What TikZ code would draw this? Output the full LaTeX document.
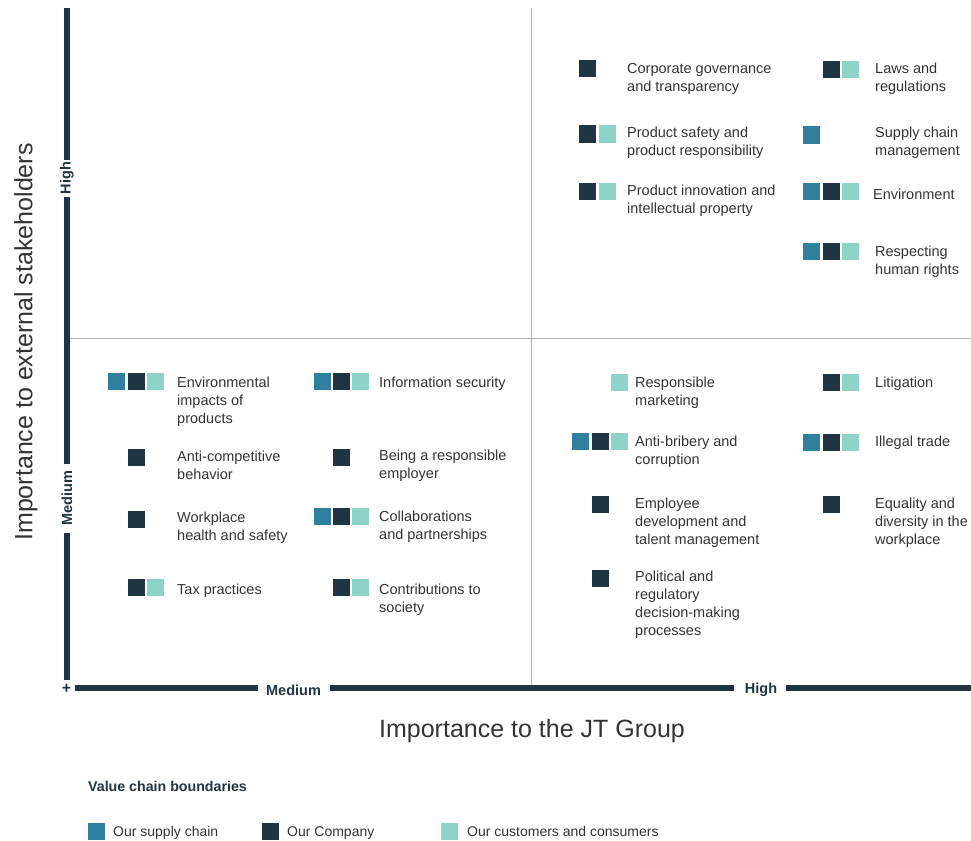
\documentclass[tikz,border=0pt]{standalone}
\usepackage{fontspec}
\setmainfont{Liberation Sans}
\definecolor{sup}{HTML}{2F7F9E}
\definecolor{com}{HTML}{1F3543}
\definecolor{cus}{HTML}{8DD3C8}
\definecolor{txt}{HTML}{333333}
\newcommand{\ml}[1]{\begin{tabular}[t]{@{}l@{}}#1\end{tabular}}
\begin{document}
\begin{tikzpicture}[x=1pt,y=-1pt,
 sq/.style={minimum size=17pt, inner sep=0, outer sep=0, anchor=center},
 sqS/.style={sq, fill=sup}, sqC/.style={sq, fill=com}, sqK/.style={sq, fill=cus},
 lab/.style={anchor=base west, inner sep=0, font=\fontsize{14.5}{18}\selectfont, text=txt},
 leglab/.style={anchor=base west, inner sep=0, font=\fontsize{14}{16}\selectfont, text=txt},
 bar/.style={line width=6.5pt, draw=com},
 axlab/.style={font=\bfseries\fontsize{14.5}{16}\selectfont, text=com, inner sep=0},
 gridline/.style={draw=gray!60, line width=0.6pt},
 title/.style={font=\fontsize{25}{28}\selectfont, text=txt, inner sep=0}]
\useasboundingbox (0,0) rectangle (971,840);
% grid
\coordinate (vt) at (531,8); \coordinate (vb) at (531,688);
\coordinate (hl) at (67,338); \coordinate (hr) at (971,338);
\draw[gridline] (vt) -- (vb);
\draw[gridline] (hl) -- (hr);
% vertical axis
\node[axlab, rotate=90] (yhigh) at (67,178) {High};
\node[axlab, rotate=90] (ymed) at (67,498) {Medium};
\node[axlab, font=\bfseries\fontsize{16}{16}\selectfont] (plus) at (66.5,689) {+};
\coordinate (y1) at (67,8); \coordinate (y2) at (67,160);
\coordinate (y3) at (67,197); \coordinate (y4) at (67,464);
\coordinate (y5) at (67,533); \coordinate (y6) at (67,680);
\draw[bar] (y1) -- (y2);
\draw[bar] (y3) -- (y4);
\draw[bar] (y5) -- (y6);
% horizontal axis
\node[axlab] (xmed) at (293.5,690) {Medium};
\node[axlab] (xhigh) at (761,690) {High};
\coordinate (xl) at (75,688); \coordinate (xr) at (971,688);
\draw[bar] (xl) -- ([xshift=-8pt]xmed.west |- xl);
\draw[bar] ([xshift=9pt]xmed.east |- xl) -- ([xshift=-11pt]xhigh.west |- xl);
\draw[bar] ([xshift=9pt]xhigh.east |- xl) -- (xr);
% titles
\node[title, rotate=90] (ytitle) at (26,342) {Importance to external stakeholders};
\node[title] (xtitle) at (532,731) {Importance to the JT Group};
% ---- top right quadrant
\node[sqC] (a1c) at (587.5,69) {};
\node[lab] (a1) at (627,74) {\ml{Corporate governance\\and transparency}};
\node[sqC] (a2c) at (587.5,134) {}; \node[sqK] (a2k) at (607.5,134) {};
\node[lab] (a2) at (627,137) {\ml{Product safety and\\product responsibility}};
\node[sqC] (a3c) at (587.5,191) {}; \node[sqK] (a3k) at (607.5,191) {};
\node[lab] (a3) at (627,195) {\ml{Product innovation and\\intellectual property}};
\node[sqC] (b1c) at (831.5,70) {}; \node[sqK] (b1k) at (850.5,70) {};
\node[lab] (b1) at (875,74) {\ml{Laws and\\regulations}};
\node[sqS] (b2s) at (811.5,135) {};
\node[lab] (b2) at (875,137) {\ml{Supply chain\\management}};
\node[sqS] (b3s) at (811.5,191) {}; \node[sqC] (b3c) at (831.5,191) {}; \node[sqK] (b3k) at (850.5,191) {};
\node[lab] (b3) at (873,199) {Environment};
\node[sqS] (b4s) at (811.5,251) {}; \node[sqC] (b4c) at (831.5,251) {}; \node[sqK] (b4k) at (850.5,251) {};
\node[lab] (b4) at (875,256) {\ml{Respecting\\human rights}};
% ---- bottom left quadrant
\node[sqS] (c1s) at (116.5,381) {}; \node[sqC] (c1c) at (136.5,381) {}; \node[sqK] (c1k) at (155.5,381) {};
\node[lab] (c1) at (177,387) {\ml{Environmental\\impacts of\\products}};
\node[sqC] (c2c) at (136.5,457) {};
\node[lab] (c2) at (177,461) {\ml{Anti-competitive\\behavior}};
\node[sqC] (c3c) at (136.5,519) {};
\node[lab] (c3) at (177,522) {\ml{Workplace\\health and safety}};
\node[sqC] (c4c) at (136.5,587) {}; \node[sqK] (c4k) at (155.5,587) {};
\node[lab] (c4) at (177,594) {Tax practices};
\node[sqS] (d1s) at (322.5,381) {}; \node[sqC] (d1c) at (341.5,381) {}; \node[sqK] (d1k) at (360.5,381) {};
\node[lab] (d1) at (379,387) {Information security};
\node[sqC] (d2c) at (341.5,457) {};
\node[lab] (d2) at (379,460) {\ml{Being a responsible\\employer}};
\node[sqS] (d3s) at (322.5,516) {}; \node[sqC] (d3c) at (341.5,516) {}; \node[sqK] (d3k) at (360.5,516) {};
\node[lab] (d3) at (379,521) {\ml{Collaborations\\and partnerships}};
\node[sqC] (d4c) at (341.5,587) {}; \node[sqK] (d4k) at (360.5,587) {};
\node[lab] (d4) at (379,594) {\ml{Contributions to\\society}};
% ---- bottom right quadrant
\node[sqK] (e1k) at (619.5,382) {};
\node[lab] (e1) at (635,387) {\ml{Responsible\\marketing}};
\node[sqS] (e2s) at (580.5,441) {}; \node[sqC] (e2c) at (600.5,441) {}; \node[sqK] (e2k) at (619.5,441) {};
\node[lab] (e2) at (635,446) {\ml{Anti-bribery and\\corruption}};
\node[sqC] (e3c) at (600.5,504) {};
\node[lab] (e3) at (635,508) {\ml{Employee\\development and\\talent management}};
\node[sqC] (e4c) at (600.5,578) {};
\node[lab] (e4) at (635,581) {\ml{Political and\\regulatory\\decision-making\\processes}};
\node[sqC] (f1c) at (831.5,382) {}; \node[sqK] (f1k) at (850.5,382) {};
\node[lab] (f1) at (875,387) {Litigation};
\node[sqS] (f2s) at (811.5,442) {}; \node[sqC] (f2c) at (831.5,442) {}; \node[sqK] (f2k) at (850.5,442) {};
\node[lab] (f2) at (875,446) {Illegal trade};
\node[sqC] (f3c) at (831.5,504) {};
\node[lab] (f3) at (875,508) {\ml{Equality and\\diversity in the\\workplace}};
% ---- legend
\node[anchor=base west, inner sep=0, font=\bfseries\fontsize{14.2}{16}\selectfont, text=com] (lgt) at (88,791) {Value chain boundaries};
\node[sqS] (lgs) at (96.5,831) {};
\node[leglab] (lgst) at (113,836) {Our supply chain};
\node[sqC] (lgc) at (270.5,831) {};
\node[leglab] (lgct) at (287,836) {Our Company};
\node[sqK] (lgk) at (449.5,831) {};
\node[leglab] (lgkt) at (467,836) {Our customers and consumers};
\end{tikzpicture}
\end{document}
